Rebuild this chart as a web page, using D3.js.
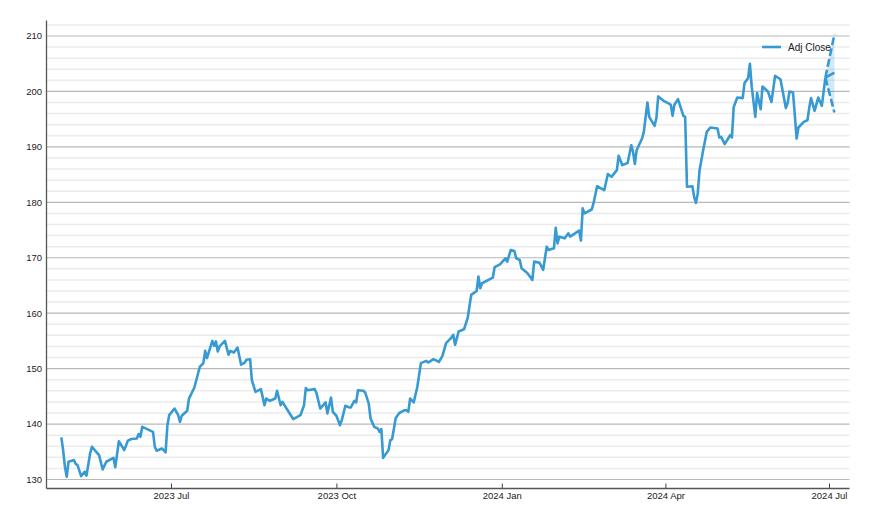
<!DOCTYPE html>
<html>
<head>
<meta charset="utf-8">
<script src="https://cdn.jsdelivr.net/npm/d3@7.9.0/dist/d3.min.js"></script>
<style>
  html, body { margin: 0; padding: 0; background: #fff; }
  svg text { font-family: "Liberation Sans", Arial, sans-serif; fill: #222; }
</style>
</head>
<body>
<svg id="chart" width="870" height="526"></svg>
<script>
// === Data ===
const dates = [
  '2023-05-01','2023-05-02','2023-05-03','2023-05-04','2023-05-05','2023-05-08','2023-05-09','2023-05-10',
  '2023-05-12','2023-05-14','2023-05-15','2023-05-17','2023-05-18','2023-05-22','2023-05-24','2023-05-26',
  '2023-05-30','2023-05-31','2023-06-02','2023-06-05','2023-06-07','2023-06-09','2023-06-12','2023-06-13',
  '2023-06-14','2023-06-15','2023-06-21','2023-06-22','2023-06-23','2023-06-26','2023-06-28','2023-06-29',
  '2023-06-30','2023-07-03','2023-07-05','2023-07-06','2023-07-07','2023-07-10','2023-07-11','2023-07-14',
  '2023-07-17','2023-07-19','2023-07-20','2023-07-21','2023-07-24','2023-07-25','2023-07-26','2023-07-27',
  '2023-07-28','2023-07-31','2023-08-02','2023-08-03','2023-08-05','2023-08-07','2023-08-09','2023-08-11',
  '2023-08-12','2023-08-14','2023-08-15','2023-08-17','2023-08-20','2023-08-22','2023-08-23','2023-08-25',
  '2023-08-28','2023-08-29','2023-08-31','2023-09-01','2023-09-05','2023-09-07','2023-09-11','2023-09-13',
  '2023-09-14','2023-09-15','2023-09-19','2023-09-20','2023-09-22','2023-09-25','2023-09-26','2023-09-28',
  '2023-09-29','2023-10-01','2023-10-03','2023-10-04','2023-10-06','2023-10-08','2023-10-09','2023-10-11',
  '2023-10-12','2023-10-13','2023-10-16','2023-10-17','2023-10-19','2023-10-20','2023-10-22','2023-10-24',
  '2023-10-25','2023-10-26','2023-10-27','2023-10-30','2023-10-31','2023-11-01','2023-11-03','2023-11-05',
  '2023-11-08','2023-11-09','2023-11-10','2023-11-11','2023-11-13','2023-11-15','2023-11-17','2023-11-20',
  '2023-11-21','2023-11-24','2023-11-26','2023-11-27','2023-11-29','2023-12-01','2023-12-04','2023-12-05',
  '2023-12-06','2023-12-08','2023-12-11','2023-12-13','2023-12-14','2023-12-15','2023-12-18','2023-12-19',
  '2023-12-20','2023-12-21','2023-12-27','2023-12-28','2023-12-31','2024-01-03','2024-01-04','2024-01-06',
  '2024-01-08','2024-01-09','2024-01-11','2024-01-12','2024-01-15','2024-01-16','2024-01-18','2024-01-19',
  '2024-01-22','2024-01-24','2024-01-26','2024-01-27','2024-01-30','2024-01-31','2024-02-01','2024-02-02',
  '2024-02-05','2024-02-07','2024-02-08','2024-02-13','2024-02-14','2024-02-15','2024-02-16','2024-02-20',
  '2024-02-21','2024-02-23','2024-02-27','2024-02-29','2024-03-02','2024-03-05','2024-03-06','2024-03-08',
  '2024-03-11','2024-03-13','2024-03-14','2024-03-15','2024-03-16','2024-03-19','2024-03-20','2024-03-22',
  '2024-03-23','2024-03-26','2024-03-27','2024-03-28','2024-03-31','2024-04-03','2024-04-04','2024-04-05',
  '2024-04-06','2024-04-08','2024-04-11','2024-04-12','2024-04-13','2024-04-16','2024-04-17','2024-04-18',
  '2024-04-19','2024-04-20','2024-04-22','2024-04-24','2024-04-26','2024-04-30','2024-05-01','2024-05-02',
  '2024-05-04','2024-05-07','2024-05-08','2024-05-09','2024-05-11','2024-05-14','2024-05-15','2024-05-17',
  '2024-05-18','2024-05-19','2024-05-21','2024-05-22','2024-05-24','2024-05-25','2024-05-28','2024-05-30',
  '2024-06-01','2024-06-04','2024-06-07','2024-06-08','2024-06-09','2024-06-11','2024-06-13','2024-06-14',
  '2024-06-17','2024-06-19','2024-06-20','2024-06-21','2024-06-23','2024-06-25','2024-06-27','2024-06-29'
];

const adjClose = [
  137.6,135.3,132.3,130.5,133.2,133.5,132.8,132.6,
  130.6,131.4,130.7,134.7,135.9,134.4,131.8,133.2,
  133.9,132.2,136.9,135.3,137.0,137.3,137.4,138.2,
  137.7,139.5,138.6,135.9,135.2,135.6,134.9,139.8,
  141.6,142.8,141.6,140.4,141.5,142.4,144.6,146.6,
  150.3,151.0,153.2,151.9,155.0,154.1,154.9,153.1,
  154.0,155.0,152.5,153.2,152.9,153.8,150.7,151.1,
  151.6,151.7,147.9,145.8,146.3,143.4,144.6,144.2,
  144.6,146.0,143.4,144.0,141.9,140.9,141.6,143.4,
  146.5,146.1,146.3,145.5,142.8,143.9,141.9,144.8,
  142.2,141.5,139.8,140.7,143.3,143.0,143.0,144.2,
  143.9,146.1,146.0,145.7,143.7,141.0,139.5,139.2,
  138.6,139.1,133.9,135.3,137.1,137.3,141.1,142.0,
  142.5,142.5,142.2,144.6,143.9,146.7,151.0,151.4,
  151.1,151.7,151.4,151.2,152.3,154.6,155.6,156.1,
  154.3,156.7,157.1,159.1,161.2,163.3,164.0,166.6,
  164.5,165.4,166.4,168.3,168.8,169.9,169.3,171.4,
  171.2,169.9,169.6,168.1,167.3,166.9,166.0,169.3,
  169.1,167.8,172.0,171.4,171.7,175.4,172.6,173.8,
  173.5,174.4,173.8,174.9,173.1,178.9,178.0,178.7,
  179.8,182.9,182.2,185.1,184.6,185.8,188.4,186.7,
  187.1,190.3,189.1,186.9,189.4,191.5,192.7,198.0,
  195.4,193.8,195.2,199.1,198.3,197.8,197.6,195.6,
  197.6,198.6,195.6,195.4,182.8,182.9,181.0,179.9,
  181.6,185.8,189.4,192.7,193.5,193.3,191.7,191.8,
  190.5,192.1,191.7,197.2,198.9,198.8,201.5,202.4,
  205.0,200.9,195.4,199.7,196.8,200.9,200.0,198.1,
  202.8,202.2,197.0,197.9,200.0,199.8,191.5,193.5,
  194.5,194.8,197.0,198.8,196.5,198.9,197.4,202.5
];

// short forecast fan after the last close
const forecastDates = ['2024-06-29', '2024-07-04'];
const forecastMean = [202.5, 203.4];
const forecastUpper = [202.5, 210.3];
const forecastLower = [202.5, 196.2];

const xTickDates = ['2023-07-01', '2023-10-01', '2024-01-01', '2024-04-01', '2024-07-01'];
const yMajorTicks = [130, 140, 150, 160, 170, 180, 190, 200, 210];
const yMinorTicks = d3.range(128, 213, 2).filter(v => v % 10 !== 0);

// === Layout ===
const parse = d3.timeParse('%Y-%m-%d');
const color = '#379ad2';
const plotLeft = 46.5, plotRight = 849.5, plotTop = 20.5, plotBottom = 488.5;

const x = d3.scaleTime()
  .domain([parse('2023-07-01'), parse('2024-07-01')])
  .range([171, 829]);
const y = d3.scaleLinear().domain([130, 210]).range([479.5, 36]);

const svg = d3.select('#chart');

// gridlines
svg.append('g')
  .selectAll('line')
  .data(yMinorTicks.filter(v => y(v) > plotTop && y(v) < plotBottom))
  .join('line')
  .attr('x1', plotLeft).attr('x2', plotRight)
  .attr('y1', d => y(d)).attr('y2', d => y(d))
  .attr('stroke', '#ebebeb').attr('stroke-width', 1.5);

svg.append('g')
  .selectAll('line')
  .data(yMajorTicks)
  .join('line')
  .attr('x1', plotLeft).attr('x2', plotRight)
  .attr('y1', d => y(d)).attr('y2', d => y(d))
  .attr('stroke', '#b8b8b8').attr('stroke-width', 1.2);

// y labels
svg.append('g')
  .selectAll('text')
  .data(yMajorTicks)
  .join('text')
  .attr('x', 42)
  .attr('y', d => y(d))
  .attr('dy', '0.35em')
  .attr('text-anchor', 'end')
  .attr('font-size', 9.5)
  .text(d => d);

// x axis (ticks point up into the plot)
const xAxis = d3.axisBottom(x)
  .tickValues(xTickDates.map(parse))
  .tickFormat(d3.timeFormat('%Y %b'))
  .tickSizeInner(-5)
  .tickSizeOuter(0)
  .tickPadding(4);

const gx = svg.append('g')
  .attr('transform', `translate(0,${plotBottom})`)
  .call(xAxis);
gx.select('.domain').remove();
gx.selectAll('.tick line').attr('stroke', '#444');
gx.selectAll('.tick text')
  .attr('font-size', 9.5)
  .attr('font-family', '"Liberation Sans", Arial, sans-serif')
  .attr('fill', '#222');

// axis lines
svg.append('line')
  .attr('x1', plotLeft).attr('x2', plotLeft).attr('y1', plotTop).attr('y2', plotBottom)
  .attr('stroke', '#555').attr('stroke-width', 1.3);
svg.append('line')
  .attr('x1', plotLeft).attr('x2', plotRight).attr('y1', plotBottom).attr('y2', plotBottom)
  .attr('stroke', '#555').attr('stroke-width', 1.3);

// forecast band
const fc = forecastDates.map((d, i) => ({
  date: parse(d), mean: forecastMean[i], hi: forecastUpper[i], lo: forecastLower[i]
}));

svg.append('path')
  .datum(fc)
  .attr('d', d3.area().x(d => x(d.date)).y0(d => y(d.lo)).y1(d => y(d.hi)))
  .attr('fill', color).attr('fill-opacity', 0.22);

// main series
const series = dates.map((d, i) => ({ date: parse(d), value: adjClose[i] }));
const line = d3.line().x(d => x(d.date)).y(d => y(d.value));

svg.append('path')
  .datum(series)
  .attr('d', line)
  .attr('fill', 'none')
  .attr('stroke', color)
  .attr('stroke-width', 2.6)
  .attr('stroke-linejoin', 'round');

svg.append('path')
  .datum(fc.map(d => ({ date: d.date, value: d.mean })))
  .attr('d', line)
  .attr('fill', 'none')
  .attr('stroke', color)
  .attr('stroke-width', 2.6);

['hi', 'lo'].forEach(k => {
  svg.append('path')
    .datum(fc.map(d => ({ date: d.date, value: d[k] })))
    .attr('d', line)
    .attr('fill', 'none')
    .attr('stroke', color)
    .attr('stroke-width', 2.6)
    .attr('stroke-dasharray', '8,3');
});

// legend
const legend = svg.append('g').attr('transform', 'translate(762,47)');
legend.append('line')
  .attr('x1', 0).attr('x2', 19)
  .attr('stroke', color).attr('stroke-width', 2.6);
legend.append('text')
  .attr('x', 26).attr('dy', '0.35em')
  .attr('font-size', 10)
  .text('Adj Close');
</script>
</body>
</html>
